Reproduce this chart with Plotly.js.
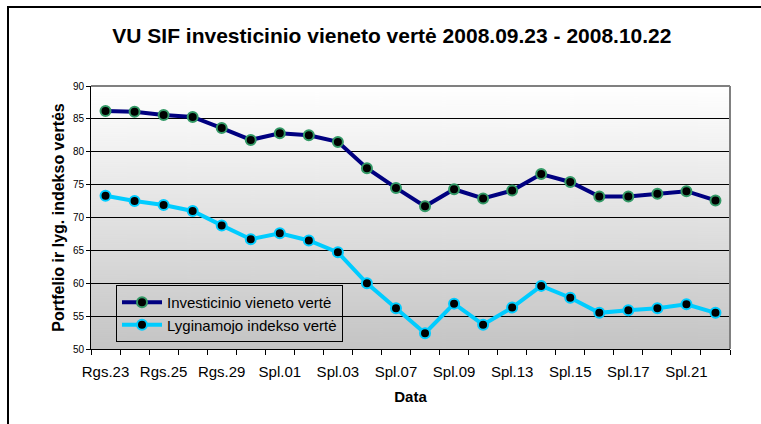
<!DOCTYPE html>
<html>
<head>
<meta charset="utf-8">
<script src="https://cdn.plot.ly/plotly-3.0.1.min.js"></script>
<style>
html,body{margin:0;padding:0;background:#fff;overflow:hidden;}
#chart{width:761px;height:424px;}
</style>
</head>
<body>
<div id="chart"></div>
<script>
const categories = ["Rgs.23","Rgs.24","Rgs.25","Rgs.26","Rgs.29","Rgs.30","Spl.01","Spl.02","Spl.03","Spl.06","Spl.07",
  "Spl.08","Spl.09","Spl.10","Spl.13","Spl.14","Spl.15","Spl.16","Spl.17","Spl.20","Spl.21","Spl.22"];
const tickLabels = ["Rgs.23","","Rgs.25","","Rgs.29","","Spl.01","","Spl.03","","Spl.07",
  "","Spl.09","","Spl.13","","Spl.15","","Spl.17","","Spl.21",""];
const fundValues = [86.2,86.1,85.6,85.3,83.6,81.8,82.8,82.5,81.5,77.5,74.5,
  71.7,74.3,72.9,74.1,76.6,75.4,73.2,73.2,73.6,74.0,72.6];
const indexValues = [73.3,72.5,71.9,71.0,68.8,66.7,67.6,66.5,64.7,60.0,56.2,
  52.4,56.9,53.7,56.3,59.6,57.8,55.5,55.9,56.2,56.8,55.5];
const seriesNames = ["Investicinio vieneto vertė","Lyginamojo indekso vertė"];
const titleText = "VU SIF investicinio vieneto vertė 2008.09.23 - 2008.10.22";
const yTitle = "Portfelio ir lyg. indekso vertės";
const xTitle = "Data";

// gradient background image
const cv = document.createElement('canvas');
cv.width = 10; cv.height = 263;
const ctx = cv.getContext('2d');
const g = ctx.createLinearGradient(0,0,0,263);
g.addColorStop(0,'#ffffff');
g.addColorStop(1,'#c4c4c4');
ctx.fillStyle = g; ctx.fillRect(0,0,10,263);
const bgURL = cv.toDataURL();

const font = "Liberation Sans, Arial, sans-serif";
const L=91, R=31, T=86, B=75, W=761-L-R, H=424-T-B;

const traces = [
  {x:categories, y:fundValues, name:seriesNames[0], type:'scatter', mode:'lines+markers',
   line:{color:'#000080', width:4},
   marker:{color:'#000000', size:10, line:{color:'#339966', width:2}}},
  {x:categories, y:indexValues, name:seriesNames[1], type:'scatter', mode:'lines+markers',
   line:{color:'#00ccff', width:4},
   marker:{color:'#000000', size:10, line:{color:'#00ccff', width:2}}}
];

const layout = {
  width:761, height:424,
  margin:{l:L, r:R, t:T, b:B, pad:0},
  paper_bgcolor:'#ffffff', plot_bgcolor:'rgba(0,0,0,0)',
  font:{family:font, color:'#000'},
  showlegend:true,
  title:{text:'<b>'+titleText+'</b>', font:{family:font, size:21, color:'#000'},
    x:0.515, xanchor:'center', y:1-36/424, yanchor:'middle'},
  xaxis:{type:'category', categoryorder:'array', categoryarray:categories,
    tickvals:categories, ticktext:tickLabels, tickson:'boundaries', tickangle:0,
    ticks:'outside', ticklen:5, tickcolor:'#000', tickwidth:1, ticklabelstandoff:9,
    showline:true, linecolor:'#000', linewidth:1, showgrid:false, zeroline:false,
    range:[-0.5, categories.length-0.5], automargin:false,
    tickfont:{family:font, size:15, color:'#000'},
    title:{text:'<b>'+xTitle+'</b>', font:{family:font, size:15, color:'#000'}, standoff:12}},
  yaxis:{range:[50,90], dtick:5, tick0:50, automargin:false,
    ticks:'outside', ticklen:4, tickcolor:'#000', tickwidth:1,
    showline:true, linecolor:'#000', linewidth:1,
    showgrid:true, gridcolor:'#000', gridwidth:1, zeroline:false,
    tickfont:{family:font, size:10, color:'#000'},
    title:{text:'<b>'+yTitle+'</b>', font:{family:font, size:16, color:'#000'}, standoff:4}},
  legend:{x:(116-L)/W, y:1-(285-T)/H, xanchor:'left', yanchor:'top',
    bgcolor:'rgba(0,0,0,0)', bordercolor:'#000', borderwidth:1,
    font:{family:font, size:15, color:'#000'}, tracegroupgap:0, itemwidth:40},
  images:[{source:bgURL, xref:'paper', yref:'paper', x:0, y:1, sizex:1, sizey:1,
    xanchor:'left', yanchor:'top', sizing:'stretch', layer:'below'}],
  shapes:[
    {type:'line', xref:'paper', yref:'paper', x0:0, x1:1, y0:1, y1:1, line:{color:'#808080', width:2}, layer:'above'},
    {type:'line', xref:'paper', yref:'paper', x0:1, x1:1, y0:0, y1:1, line:{color:'#808080', width:2}, layer:'above'},
    {type:'rect', xref:'paper', yref:'paper', x0:(8-L)/W, x1:(800-L)/W, y0:1-(460-T)/H, y1:1+(T-7)/H,
      line:{color:'#000', width:2}, fillcolor:'rgba(0,0,0,0)', layer:'above'}
  ]
};

Plotly.newPlot('chart', traces, layout, {staticPlot:true, displayModeBar:false});
</script>
</body>
</html>
